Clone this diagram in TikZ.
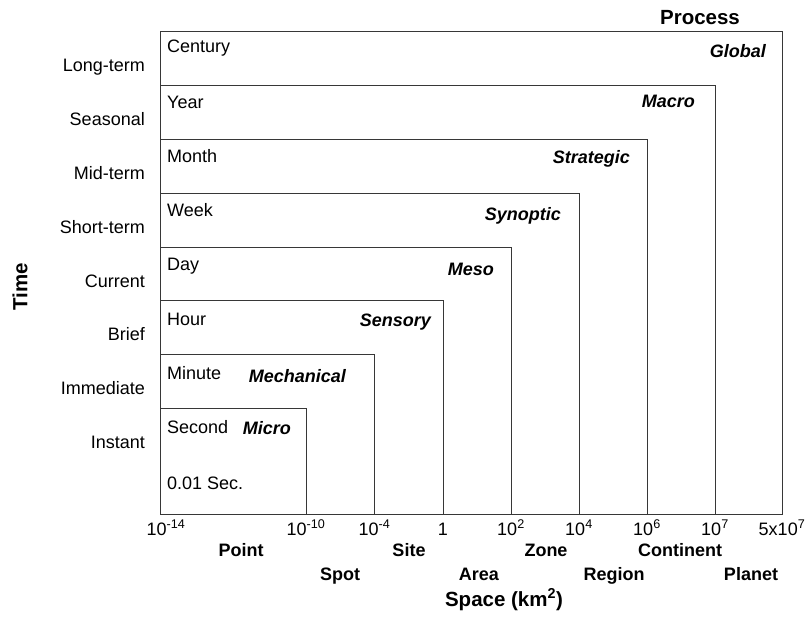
\documentclass[tikz,border=0pt]{standalone}
\usepackage{fontspec}
\setmainfont{Liberation Sans}
\usetikzlibrary{positioning}
\definecolor{scaleline}{RGB}{55,55,55}
\newcommand{\plainsize}{\fontsize{18}{21}\selectfont}
\newcommand{\titlesize}{\fontsize{20.5}{24}\selectfont}

\begin{document}
\begin{tikzpicture}[x=1pt, y=-1pt,
    scalebox/.style={draw=scaleline, line width=0.9pt},
    plainlabel/.style={inner sep=0pt, font=\plainsize},
    proclabel/.style={inner sep=0pt, font=\plainsize\bfseries\itshape, anchor=base east},
    spacelabel/.style={inner sep=0pt, font=\plainsize\bfseries, anchor=base},
    axistitle/.style={inner sep=0pt, font=\titlesize\bfseries}]
    \useasboundingbox (0,0) rectangle (807,619);

    % Nested boxes: right edge / top edge / time unit + baseline / process + pos / time class
    \foreach \r/\t/\unit/\uy/\proc/\px/\py/\class [count=\i] in {
        782/31/Century/52/Global/766/57/Long-term,
        715/85/Year/108.5/Macro/695/107/Seasonal,
        647/139/Month/162.5/Strategic/630/163/Mid-term,
        579/193/Week/216.5/Synoptic/561/220/Short-term,
        511/247/Day/270.5/Meso/494/275/Current,
        443/300.5/Hour/325/Sensory/431/326/Brief,
        374.5/354/Minute/379/Mechanical/346/382/Immediate,
        306/408/Second/433/Micro/291/434/Instant} {
        \draw[scalebox] (160.5,\t) rectangle (\r,514.5);
        \node[plainlabel, anchor=base west] (unit-\i) at (167,\uy) {\unit};
        \node[proclabel] (proc-\i) at (\px,\py) {\proc};
        \node[plainlabel, anchor=base east] (class-\i) at (145,{\t+40}) {\class};
    }
    \node[plainlabel, anchor=base west] (unit-9) at (167,489) {0.01 Sec.};

    % Space ticks
    \foreach \x/\lbl [count=\i] in {166/10\textsuperscript{-14}, 306/10\textsuperscript{-10},
        374.5/10\textsuperscript{-4}, 443/1, 511/10\textsuperscript{2}, 579/10\textsuperscript{4},
        647/10\textsuperscript{6}, 715/10\textsuperscript{7}, 782/5x10\textsuperscript{7}} {
        \node[plainlabel, anchor=base] (tick-\i) at (\x,535) {\lbl};
    }

    % Spatial classes, two rows
    \foreach \x/\lbl [count=\i] in {241/Point, 409/Site, 546/Zone, 680/Continent} {
        \node[spacelabel] (upper-\i) at (\x,556) {\lbl};
    }
    \foreach \x/\lbl [count=\i] in {340/Spot, 479/Area, 614/Region, 751/Planet} {
        \node[spacelabel] (lower-\i) at (\x,580.5) {\lbl};
    }

    % Axis titles
    \node[axistitle, anchor=base] (process) at (700,24) {Process};
    \node[axistitle, anchor=base] (space) at (504,606) {Space (km\textsuperscript{2})};
    \node[axistitle, rotate=90] (time) at (20,287) {Time};
\end{tikzpicture}
\end{document}
